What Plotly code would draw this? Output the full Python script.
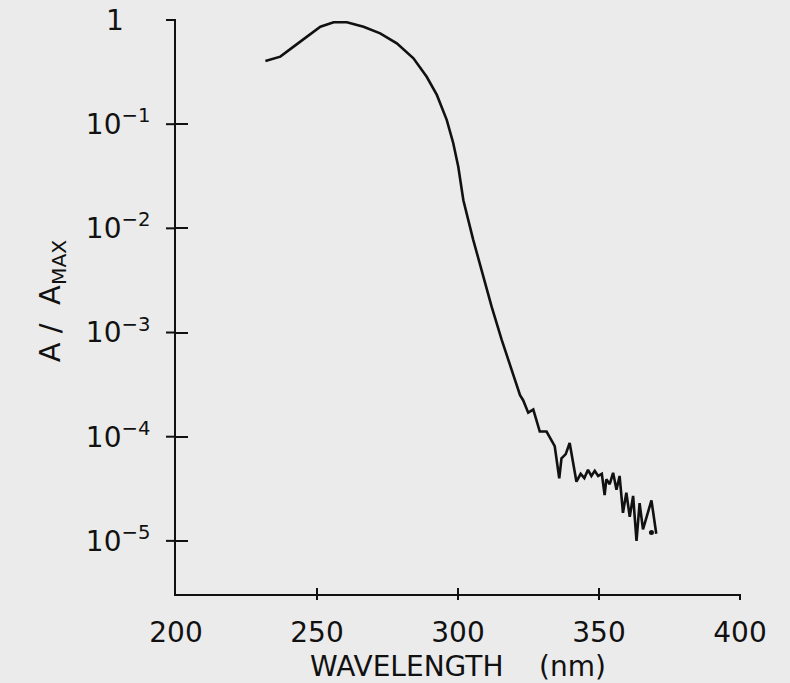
import math
import plotly.graph_objects as go

# ---- data ----
wavelength_nm = [231.7, 237.0, 241.7, 246.4, 251.2, 255.9, 260.6, 266.5, 272.4, 278.3,
                 284.2, 288.9, 292.5, 296.0, 298.3, 300.1, 301.9, 305.4, 309.0, 311.9,
                 315.5, 319.2, 322.0, 323.1, 324.9, 326.7, 329.0, 331.4, 334.3, 335.9,
                 336.7, 338.2, 339.6, 342.0, 343.5, 344.8, 346.1, 347.3, 348.5, 349.7,
                 351.0, 352.0, 352.6, 353.8, 355.0, 356.2, 357.3, 358.5, 359.7, 360.9,
                 362.1, 363.3, 364.4, 365.6, 368.6, 370.3]
a_rel = [0.405, 0.445, 0.555, 0.692, 0.863, 0.951, 0.951, 0.863, 0.745, 0.597,
         0.429, 0.285, 0.191, 0.110, 0.066, 0.039, 0.0186, 0.00776, 0.00347, 0.00178,
         8.5e-4, 4.2e-4, 2.5e-4, 2.24e-4, 1.70e-4, 1.82e-4, 1.12e-4, 1.12e-4, 8.1e-5, 3.98e-5,
         6.2e-5, 6.8e-5, 8.7e-5, 3.7e-5, 4.4e-5, 4.0e-5, 4.8e-5, 4.2e-5, 4.7e-5, 4.2e-5,
         4.4e-5, 2.75e-5, 3.9e-5, 3.5e-5, 4.5e-5, 3.1e-5, 4.2e-5, 1.86e-5, 2.9e-5, 1.7e-5,
         2.7e-5, 1.0e-5, 2.3e-5, 1.29e-5, 2.45e-5, 1.17e-5]
dot_wavelength = [368.6]
dot_value = [1.2e-5]

x_tick_vals = [200, 250, 300, 350, 400]
x_tick_text = ["200", "250", "300", "350", "400"]
y_tick_vals = [1, 1e-1, 1e-2, 1e-3, 1e-4, 1e-5]
y_tick_text = ["1\u00a0\u00a0\u00a0", "10<sup>\u22121</sup>", "10<sup>\u22122</sup>",
               "10<sup>\u22123</sup>", "10<sup>\u22124</sup>", "10<sup>\u22125</sup>"]

FONT = "DejaVu Sans"
INK = "#111111"
BG = "#ebebeb"

fig = go.Figure()
fig.add_trace(go.Scatter(x=wavelength_nm, y=a_rel, mode="lines",
                         line=dict(color=INK, width=2.6), showlegend=False, hoverinfo="skip"))
fig.add_trace(go.Scatter(x=dot_wavelength, y=dot_value, mode="markers",
                         marker=dict(color=INK, size=5), showlegend=False, hoverinfo="skip"))

xr = [200, 400]
yr = [-5.51, 0]

fig.update_layout(
    width=790, height=683, autosize=False,
    margin=dict(l=176, r=50, t=20, b=89, pad=0),
    paper_bgcolor=BG, plot_bgcolor=BG,
    font=dict(family=FONT, color=INK, size=28),
    xaxis=dict(type="linear", range=xr, tickmode="array", tickvals=x_tick_vals, ticktext=x_tick_text,
               ticks="inside", ticklen=6, tickwidth=2, tickcolor=INK,
               showline=True, linecolor=INK, linewidth=2, showgrid=False, zeroline=False,
               automargin=False, ticklabelstandoff=12,
               tickfont=dict(size=28, family=FONT, color=INK)),
    yaxis=dict(type="log", range=yr, tickmode="array", tickvals=y_tick_vals, ticktext=y_tick_text,
               ticks="inside", ticklen=12, tickwidth=2, tickcolor=INK,
               showline=True, linecolor=INK, linewidth=2, showgrid=False, zeroline=False,
               automargin=False, ticklabelstandoff=18,
               tickfont=dict(size=28, family=FONT, color=INK)),
)

W = 565.0
H = 574.0

# outer halves of the crossing tick marks (axis decoration, placed at the axis tick values)
for v in y_tick_vals:
    f = (math.log10(v) - yr[0]) / (yr[1] - yr[0])
    fig.add_shape(type="line", xref="x domain", yref="y domain", x0=-10 / W, x1=0, y0=f, y1=f,
                  line=dict(color=INK, width=2), layer="above")
for v in x_tick_vals[1:]:
    f = (v - xr[0]) / (xr[1] - xr[0])
    fig.add_shape(type="line", xref="x domain", yref="y domain", x0=f, x1=f, y0=-6 / H, y1=0,
                  line=dict(color=INK, width=2), layer="above")

def px_to_paper(px, py):
    return (px - 176) / W, (594 - py) / H

tx, ty = px_to_paper(459, 666)
fig.add_annotation(text="WAVELENGTH\u00a0\u00a0\u00a0\u00a0(nm)", x=tx, y=ty, xref="paper", yref="paper",
                   showarrow=False, font=dict(size=28, family=FONT, color=INK),
                   xanchor="center", yanchor="middle")
ax, ay = px_to_paper(52, 301)
fig.add_annotation(text="A\u00a0/\u00a0\u00a0A<sub>MAX</sub>", x=ax, y=ay, xref="paper", yref="paper",
                   showarrow=False, textangle=-90, font=dict(size=29, family=FONT, color=INK),
                   xanchor="center", yanchor="middle")

fig.write_html("out.html")
